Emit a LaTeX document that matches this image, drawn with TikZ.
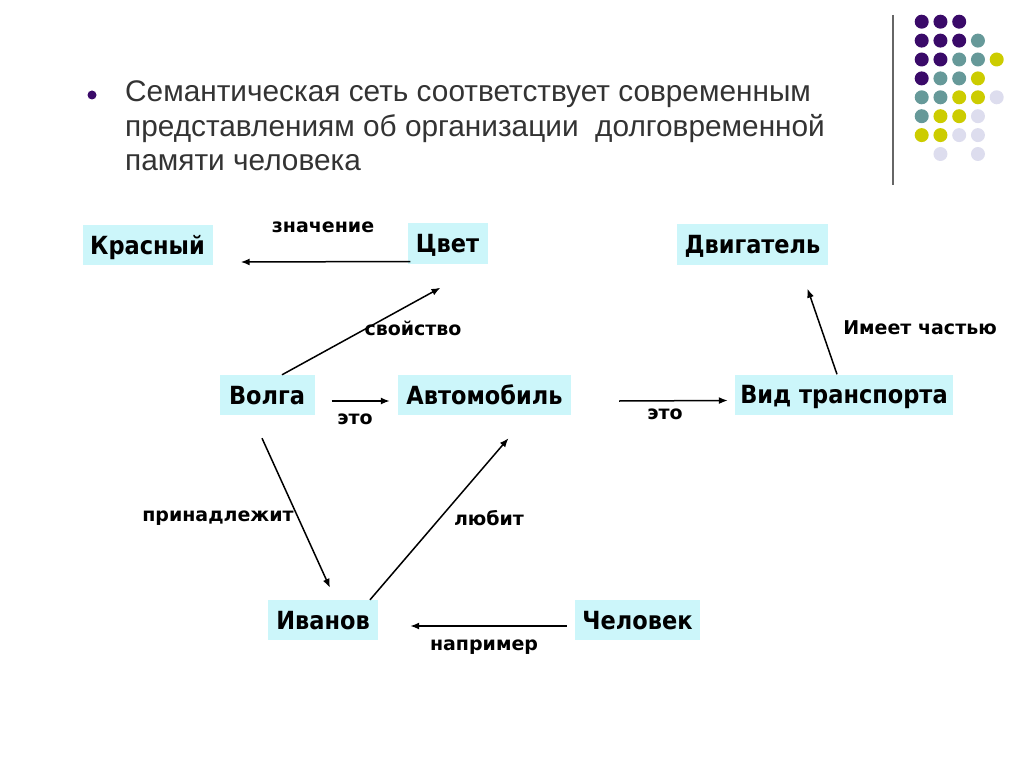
\documentclass[tikz,border=0pt]{standalone}
\usepackage{fontspec}
\setmainfont{Liberation Sans}
\newfontfamily\cfont{DejaVu Sans Condensed}
\newfontfamily\lfont{DejaVu Sans}
\usetikzlibrary{arrows.meta,calc}
\definecolor{boxfill}{RGB}{204,246,250}
\definecolor{titlegray}{RGB}{51,51,51}
\definecolor{dpurple}{RGB}{58,10,105}
\definecolor{dteal}{RGB}{102,153,153}
\definecolor{dyellow}{RGB}{204,204,0}
\definecolor{dlav}{RGB}{221,221,238}
\tikzset{
  concept/.style={fill=boxfill, inner sep=0pt, minimum height=40pt, text height=19pt, text depth=1pt, font=\cfont\bfseries\fontsize{25}{27}\selectfont, text=black},
  rel/.style={inner sep=0pt, font=\lfont\bfseries\fontsize{19}{21}\selectfont, text=black},
  arr/.style={-{Latex[length=9pt,width=7pt]}, line width=1.5pt, black},
  titleline/.style={anchor=base west, inner sep=0pt, font=\fontsize{29.8}{31}\selectfont, text=titlegray},
}
\begin{document}
\begin{tikzpicture}[x=1pt,y=-1pt]
\useasboundingbox (0,0) rectangle (1024,767);
% decoration
\draw[line width=2pt, gray!80!black] (893,15) -- (893,185);
\foreach \c/\r/\col in {
 0/0/dpurple,1/0/dpurple,2/0/dpurple,
 0/1/dpurple,1/1/dpurple,2/1/dpurple,3/1/dteal,
 0/2/dpurple,1/2/dpurple,2/2/dteal,3/2/dteal,4/2/dyellow,
 0/3/dpurple,1/3/dteal,2/3/dteal,3/3/dyellow,
 0/4/dteal,1/4/dteal,2/4/dyellow,3/4/dyellow,4/4/dlav,
 0/5/dteal,1/5/dyellow,2/5/dyellow,3/5/dlav,
 0/6/dyellow,1/6/dyellow,2/6/dlav,3/6/dlav,
 1/7/dlav,3/7/dlav}{
  \fill[\col] (921.7+18.75*\c, 21.7+18.9*\r) circle (7);
}
% title
\fill[dpurple] (92,95) circle (4.5);
\node[titleline] (t1) at (125,102) {Семантическая сеть соответствует современным};
\node[titleline] (t2) at (125,136.5) {представлениям об организации\ \ долговременной};
\node[titleline] (t3) at (125,171) {памяти человека};
% concepts
\node[concept, minimum width=130pt] (kr) at (147.5,245) {Красный};
\node[concept, minimum width=80pt] (ts) at (447.5,243.5) {Цвет};
\node[concept, minimum width=151pt] (dv) at (752.5,244.5) {Двигатель};
\node[concept, minimum width=95pt] (vo) at (267,395) {Волга};
\node[concept, minimum width=173pt] (av) at (484.5,395) {Автомобиль};
\node[concept, minimum width=218pt] (vt) at (844,394.5) {Вид транспорта};
\node[concept, minimum width=110pt] (iv) at (323,620) {Иванов};
\node[concept, minimum width=125pt] (ch) at (637.5,620) {Человек};
% relations
\draw[arr] ($(ts.west)+(3,18)$) -- ($(kr.east)+(28,17)$);
\draw[arr] ($(vo.north)+(15,0)$) -- ($(ts.south)+(-7,24)$);
\draw[arr] ($(vo.east)+(17,6)$) -- ($(av.west)+(-8,6)$);
\draw[arr] ($(av.east)+(48,6)$) -- ($(vt.west)+(-7,6)$);
\draw[arr] ($(vt.north)+(-7,0)$) -- ($(dv.south)+(55,24)$);
\draw[arr] ($(vo.south)+(-5,23)$) -- ($(iv.north)+(7,-12)$);
\draw[arr] ($(iv.north)+(47,0)$) -- ($(av.south)+(24,23)$);
\draw[arr] ($(ch.west)+(-8,6)$) -- ($(iv.east)+(32,6)$);
% labels
\node[rel] (l1) at (323,227) {значение};
\node[rel] (l2) at (413,328) {свойство};
\node[rel] (l3) at (355,419) {это};
\node[rel] (l4) at (665,414) {это};
\node[rel] (l5) at (920,328) {Имеет частью};
\node[rel] (l6) at (218,518) {принадлежит};
\node[rel] (l7) at (489,518) {любит};
\node[rel] (l8) at (484,647) {например};
\end{tikzpicture}
\end{document}
